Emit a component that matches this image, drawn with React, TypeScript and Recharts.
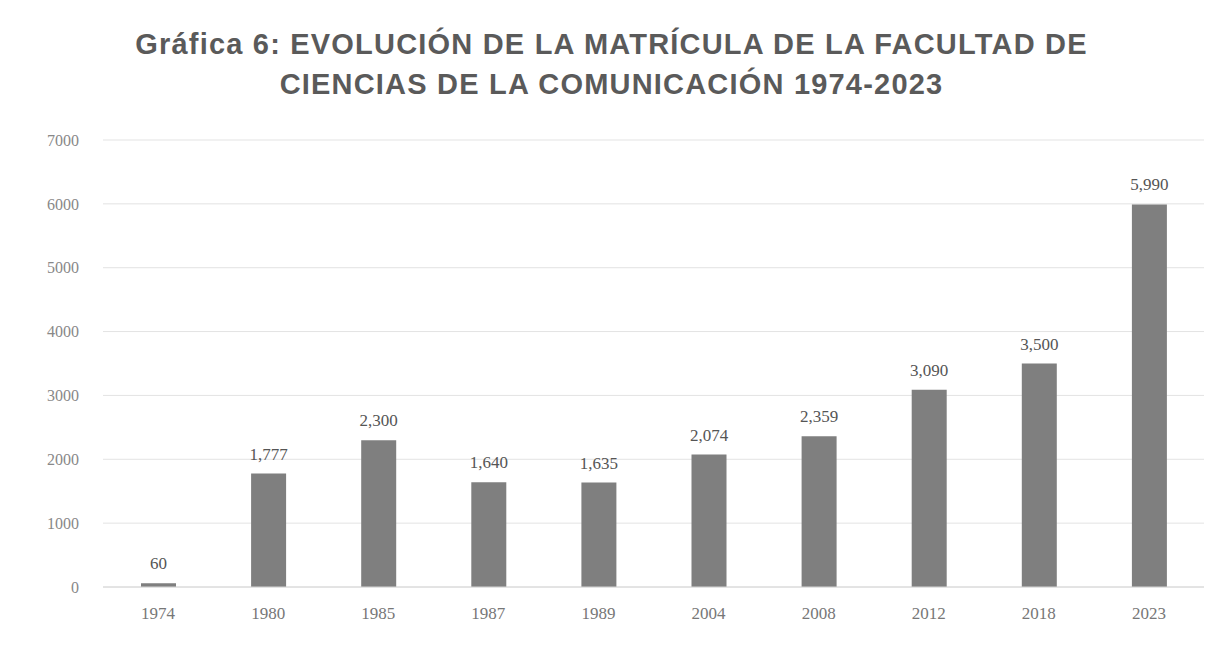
import { Bar, BarChart, CartesianGrid, LabelList, XAxis, YAxis } from 'recharts'

// Matrícula por año
const years = ['1974', '1980', '1985', '1987', '1989', '2004', '2008', '2012', '2018', '2023']
const enrolment = [60, 1777, 2300, 1640, 1635, 2074, 2359, 3090, 3500, 5990]
const yTicks = [0, 1000, 2000, 3000, 4000, 5000, 6000, 7000]

const data = years.map((year, i) => ({ year, value: enrolment[i] }))

const fmt = (v: number) => v.toLocaleString('en-US')

export default function App() {
  return (
    <div style={{ position: 'relative', width: 1223, height: 647, margin: -8, background: '#fff' }}>
      <div
        style={{
          position: 'absolute',
          top: 24,
          left: 0,
          width: 1223,
          textAlign: 'center',
          fontFamily: '"Liberation Sans", Arial, sans-serif',
          fontWeight: 'bold',
          fontSize: 29,
          lineHeight: '40px',
          color: '#5a5a5a',
          letterSpacing: 1.2,
        }}
      >
        Gráfica 6: EVOLUCIÓN DE LA MATRÍCULA DE LA FACULTAD DE
        <br />
        CIENCIAS DE LA COMUNICACIÓN 1974-2023
      </div>
      <BarChart
        width={1223}
        height={647}
        data={data}
        margin={{ top: 140, right: 19, bottom: 20, left: 8 }}
        barSize={35}
      >
        <CartesianGrid vertical={false} stroke="#e3e3e3" />
        <XAxis
          dataKey="year"
          height={40}
          tickLine={false}
          axisLine={{ stroke: '#d6d6d6' }}
          tick={{ fill: '#777', fontSize: 17, fontFamily: '"Liberation Serif", serif' }}
          tickMargin={14}
        />
        <YAxis
          width={95}
          domain={[0, 7000]}
          ticks={yTicks}
          tickLine={false}
          axisLine={false}
          tick={{ fill: '#888', fontSize: 16, fontFamily: '"Liberation Serif", serif' }}
          tickMargin={18}
        />
        <Bar dataKey="value" fill="#7f7f7f" isAnimationActive={false}>
          <LabelList
            dataKey="value"
            position="top"
            offset={14}
            formatter={(v: number) => fmt(v)}
            style={{ fill: '#555', fontSize: 17, fontFamily: '"Liberation Serif", serif' }}
          />
        </Bar>
      </BarChart>
    </div>
  )
}
